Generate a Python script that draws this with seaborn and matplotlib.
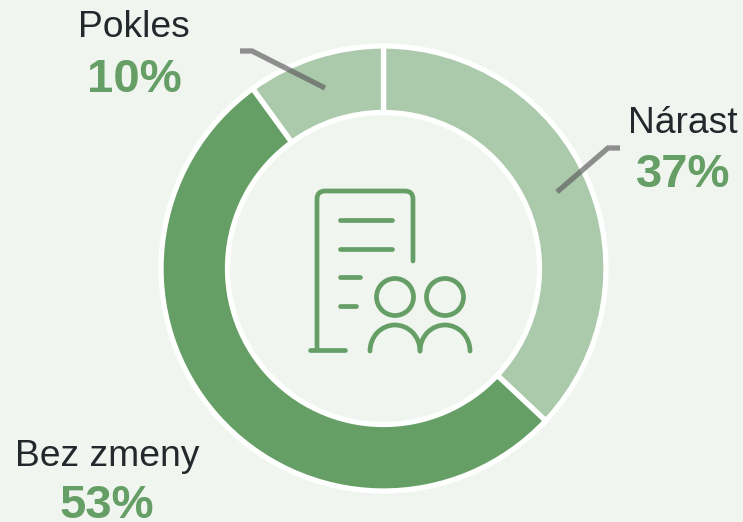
import numpy as np
import matplotlib
matplotlib.use("Agg")
import matplotlib.pyplot as plt
from matplotlib.patches import Arc, Circle, PathPatch
from matplotlib.path import Path
import seaborn as sns

categories = ["Nárast", "Bez zmeny", "Pokles"]
shares = [37, 53, 10]
value_labels = ["37%", "53%", "10%"]

BG = "#F0F5F0"
LIGHT = "#ABC9AB"
DARK = "#669F66"
INK = "#23282D"

sns.set_theme(style="white", rc={"figure.facecolor": BG, "axes.facecolor": BG})
plt.rcParams["font.family"] = ["Liberation Sans", "DejaVu Sans"]
palette = sns.color_palette([LIGHT, DARK, LIGHT])

H = 522
fig = plt.figure(figsize=(7.43, 5.22), dpi=100)
ax = fig.add_axes([0, 0, 1, 1])
ax.set_xlim(0, 743)
ax.set_ylim(H, 0)
ax.set_aspect("equal")
ax.axis("off")

# The y axis runs downward, so the ring is laid out with the mirrored sense of rotation.
cx, cy, r_outer, r_inner = 383.5, 268.5, 222.5, 156
ax.pie(shares, colors=palette, center=(cx, cy), radius=r_outer,
       startangle=-90, counterclock=True, frame=True,
       wedgeprops=dict(width=r_outer - r_inner, edgecolor="white", linewidth=3.8))
ax.set_xlim(0, 743)
ax.set_ylim(H, 0)
ax.axis("off")

# Leader lines
leader = dict(color="#5E5E5E", alpha=0.68, lw=3.8, solid_capstyle="butt",
              solid_joinstyle="miter", zorder=4)
ax.plot([240, 252, 325], [51, 51, 88], **leader)
ax.plot([620, 608, 557], [148, 148, 192], **leader)

# Category names and their shares
label_pos = {"Nárast": (683, 133), "Bez zmeny": (107, 466), "Pokles": (134, 37)}
value_pos = {"Nárast": (683, 187), "Bez zmeny": (107, 518), "Pokles": (134, 92)}
for name, val in zip(categories, value_labels):
    ax.text(*label_pos[name], name, fontsize=26.8, color=INK, ha="center", va="baseline")
    ax.text(*value_pos[name], val, fontsize=34, fontweight="bold", color=DARK,
            ha="center", va="baseline")

# Document-and-people pictogram in the middle of the ring
ICON_LW = 3.4
icon = dict(color=DARK, lw=ICON_LW, solid_capstyle="round", zorder=5)
outline = Path(
    [(317, 350), (317, 199), (317, 191), (325, 191),
     (405, 191), (413, 191), (413, 199), (413, 261)],
    [Path.MOVETO, Path.LINETO, Path.CURVE3, Path.CURVE3,
     Path.LINETO, Path.CURVE3, Path.CURVE3, Path.LINETO],
)
ax.add_patch(PathPatch(outline, fill=False, edgecolor=DARK, lw=ICON_LW,
                       capstyle="round", joinstyle="round", zorder=5))
ax.plot([310, 345], [350, 350], **icon)
for y0, x1 in [(220, 392), (249, 392), (277, 360), (306, 356)]:
    ax.plot([340, x1], [y0, y0], **icon)
for xc in (395, 445):
    ax.add_patch(Circle((xc, 297), 18.5, fill=False, edgecolor=DARK, lw=ICON_LW, zorder=5))
    ax.add_patch(Arc((xc, 351), 50, 52, theta1=180, theta2=360, color=DARK,
                     lw=ICON_LW, capstyle="round", zorder=5))

fig.savefig("out.png", dpi=100, facecolor=BG)
